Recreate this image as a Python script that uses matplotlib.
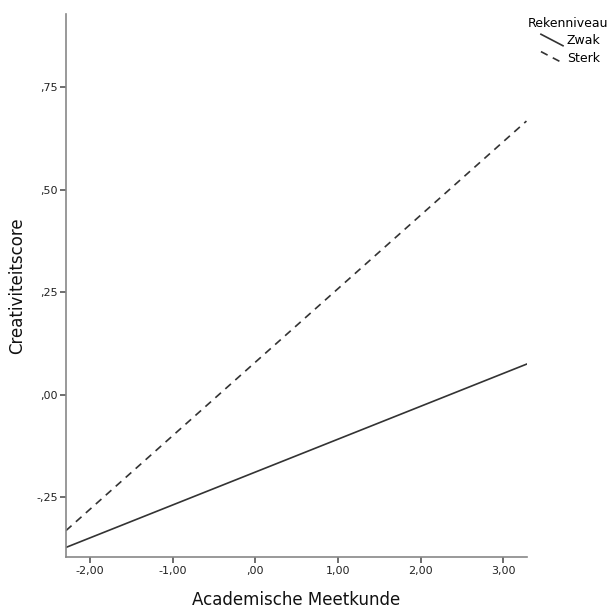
import matplotlib
matplotlib.use('Agg')
import matplotlib.pyplot as plt
from matplotlib.lines import Line2D
from matplotlib.legend_handler import HandlerLine2D
from matplotlib.ticker import FuncFormatter

# data (line end points)
x_ends = [-2.29, 3.28]
zwak = [-0.373, 0.074]
sterk = [-0.332, 0.667]
xticks = [-2, -1, 0, 1, 2, 3]
yticks = [-0.25, 0.0, 0.25, 0.5, 0.75]

def nl_fmt(v, pos):
    s = '%.2f' % v
    s = s.replace('.', ',')
    if s.startswith('0,'):
        s = s[1:]
    elif s.startswith('-0,'):
        s = '-' + s[2:]
    return s

# diagonal legend handles, like SPSS draws them (indented under the title)
class DiagHandler(HandlerLine2D):
    def create_artists(self, legend, orig_handle, xdescent, ydescent,
                       width, height, fontsize, trans):
        x0 = -xdescent + 0.37 * width
        ln = Line2D([x0, width - xdescent],
                    [height - ydescent + 1, -ydescent - 1])
        self.update_prop(ln, orig_handle, legend)
        ln.set_transform(trans)
        return [ln]

fig = plt.figure(figsize=(6.14, 6.12), dpi=100)
ax = fig.add_axes([0.1075, 0.0894, 0.7503, 0.8876])

l1, = ax.plot(x_ends, zwak, color='#333333', lw=1.2, label='Zwak')
l2, = ax.plot(x_ends, sterk, color='#333333', lw=1.2, ls=(0, (4.5, 3.5)), label='Sterk')

ax.set_xlim(-2.289, 3.283)
ax.set_ylim(-0.397, 0.928)
ax.set_xticks(xticks)
ax.set_yticks(yticks)
ax.xaxis.set_major_formatter(FuncFormatter(nl_fmt))
ax.yaxis.set_major_formatter(FuncFormatter(nl_fmt))

for s in ['top', 'right']:
    ax.spines[s].set_visible(False)
for s in ['left', 'bottom']:
    ax.spines[s].set_color('#888888')
    ax.spines[s].set_linewidth(1.2)
ax.tick_params(direction='out', length=4, width=1.2, color='#555555',
               labelsize=8, labelcolor='#222222', pad=2)

ax.set_xlabel('Academische Meetkunde', fontsize=12, color='#111111', labelpad=11)
ax.set_ylabel('Creativiteitscore', fontsize=12, color='#111111', labelpad=7)

leg = fig.legend(handles=[l1, l2], title='Rekenniveau', loc='upper left',
                 bbox_to_anchor=(528 / 614, 1 - 17 / 612), frameon=False,
                 fontsize=9, title_fontsize=9, handlelength=2.8,
                 handletextpad=0.3, labelspacing=0.35, borderpad=0,
                 borderaxespad=0, handler_map={Line2D: DiagHandler()})
leg._legend_box.align = 'left'

fig.savefig('out.png', dpi=100)
